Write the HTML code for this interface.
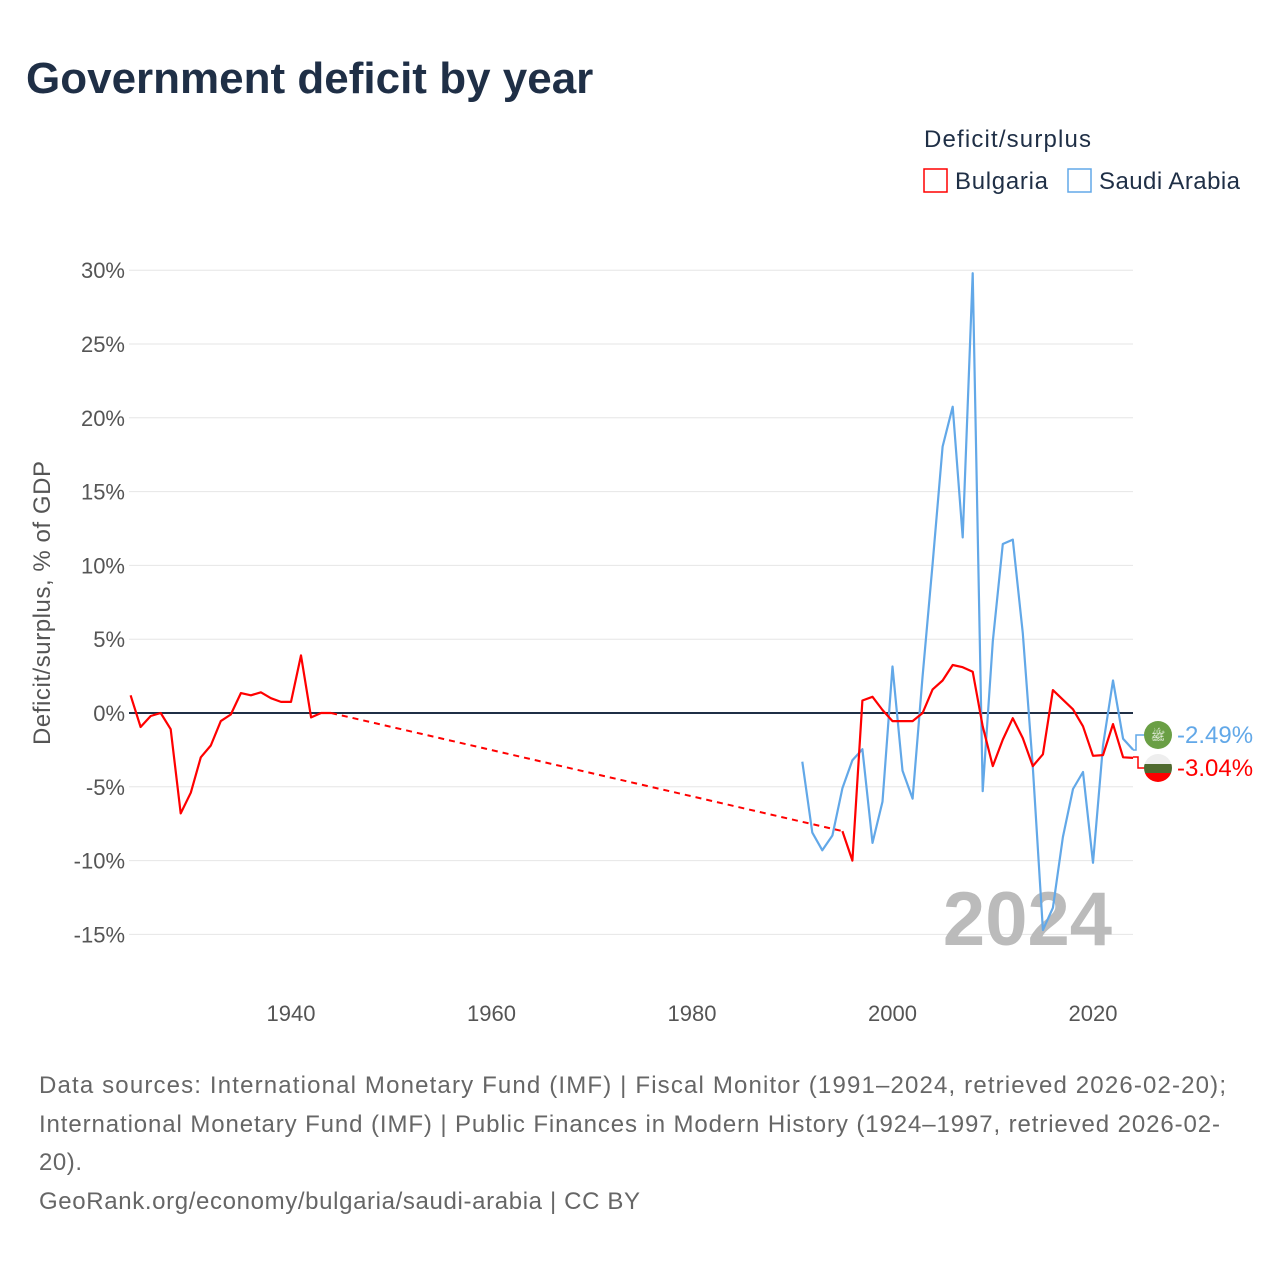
<!DOCTYPE html>
<html><head><meta charset="utf-8"><style>
body{margin:0;background:#fff;font-family:"Liberation Sans",sans-serif;}
svg text{font-family:"Liberation Sans",sans-serif;}
</style></head><body>
<svg width="1280" height="1280" viewBox="0 0 1280 1280">
<text x="26" y="93" font-size="44" font-weight="bold" fill="#1f2f46">Government deficit by year</text>
<g>
<text x="924" y="147" font-size="24" fill="#1f2f46" textLength="167">Deficit/surplus</text>
<g><rect x="924" y="169" width="23" height="23" fill="none" stroke="#ff0000" stroke-width="1.5"/><text x="955" y="189" font-size="24" fill="#1f2f46" textLength="93">Bulgaria</text></g>
<g><rect x="1068" y="169" width="23" height="23" fill="none" stroke="#62a8e8" stroke-width="1.5"/><text x="1099" y="189" font-size="24" fill="#1f2f46" textLength="141">Saudi Arabia</text></g>
</g>
<g id="grid"></g>
<g id="yticks"></g>
<g id="xticks"></g>
<text transform="translate(50,603) rotate(-90)" text-anchor="middle" font-size="24" fill="#555" textLength="284">Deficit/surplus, % of GDP</text>
<text x="1112" y="945" text-anchor="end" font-size="76" font-weight="bold" fill="#bbbbbb">2024</text>
<g id="series"></g>
<g>
<polyline points="1133,750 1136,750 1136,735 1145,735" fill="none" stroke="#62a8e8" stroke-width="1.5"/>
<polyline points="1133,757 1138,757 1138,768 1145,768" fill="none" stroke="#ff0000" stroke-width="1.5"/>
<circle cx="1158" cy="735" r="14" fill="#6a9f45"/>
<text x="1158" y="740" text-anchor="middle" font-size="12" fill="#fff">ﷺ</text>
<clipPath id="bgc"><circle cx="1158" cy="768" r="14"/></clipPath>
<g clip-path="url(#bgc)"><rect x="1144" y="754" width="28" height="10" fill="#eee"/><rect x="1144" y="764" width="28" height="9" fill="#4f6a2f"/><rect x="1144" y="773" width="28" height="10" fill="#ff0000"/></g>
<text x="1177" y="743" font-size="24" fill="#62a8e8">-2.49%</text>
<text x="1177" y="776" font-size="24" fill="#ff0000">-3.04%</text>
</g>
<g font-size="24" fill="#666">
<text x="39" y="1093" textLength="1187">Data sources: International Monetary Fund (IMF) | Fiscal Monitor (1991–2024, retrieved 2026-02-20);</text>
<text x="39" y="1132" textLength="1181">International Monetary Fund (IMF) | Public Finances in Modern History (1924–1997, retrieved 2026-02-</text>
<text x="39" y="1170" textLength="43">20).</text>
<text x="39" y="1209" textLength="601">GeoRank.org/economy/bulgaria/saudi-arabia | CC BY</text>
</g>
</svg>
<script>
const yTicks=[30,25,20,15,10,5,0,-5,-10,-15];
const xTicks=[1940,1960,1980,2000,2020];
const bgYears=[1924,1925,1926,1927,1928,1929,1930,1931,1932,1933,1934,1935,1936,1937,1938,1939,1940,1941,1942,1943,1944,
1995,1996,1997,1998,1999,2000,2001,2002,2003,2004,2005,2006,2007,2008,2009,2010,2011,2012,2013,2014,2015,2016,2017,2018,2019,2020,2021,2022,2023,2024];
const bgValues=[1.2,-0.95,-0.2,0,-1.1,-6.8,-5.4,-3.0,-2.2,-0.55,-0.1,1.35,1.2,1.4,1.0,0.75,0.75,3.9,-0.3,0,0,
-8.0,-10.0,0.85,1.1,0.2,-0.55,-0.55,-0.55,0,1.6,2.2,3.25,3.1,2.8,-0.9,-3.6,-1.8,-0.35,-1.7,-3.6,-2.8,1.55,0.9,0.25,-0.9,-2.9,-2.85,-0.75,-3.0,-3.04];
const saYears=[1991,1992,1993,1994,1995,1996,1997,1998,1999,2000,2001,2002,2003,2004,2005,2006,2007,2008,2009,2010,2011,2012,2013,2014,2015,2016,2017,2018,2019,2020,2021,2022,2023,2024];
const saValues=[-3.3,-8.1,-9.3,-8.3,-5.1,-3.2,-2.45,-8.8,-6.0,3.15,-3.9,-5.8,2.5,10.1,18.05,20.75,11.9,29.8,-5.3,4.85,11.45,11.75,5.4,-3.65,-14.7,-13.2,-8.4,-5.15,-4.0,-10.15,-2.2,2.2,-1.75,-2.49];
const NS='http://www.w3.org/2000/svg';
const X=y=>130.6+(y-1924)*10.025;
const Y=v=>713-v*14.76;
function mk(t,a,p){const e=document.createElementNS(NS,t);for(const k in a)e.setAttribute(k,a[k]);p.appendChild(e);return e;}
const grid=document.getElementById('grid'),yt=document.getElementById('yticks'),xt=document.getElementById('xticks'),ser=document.getElementById('series');
yTicks.forEach(v=>{
 const l=mk('line',{x1:129,x2:1133,y1:Y(v),y2:Y(v),stroke:'#e6e6e6','stroke-width':1},grid);
 
 
 const t=mk('text',{x:125,y:Y(v)+8,'text-anchor':'end','font-size':22,fill:'#555'},yt);
 t.textContent=v+'%';
 
 
});
xTicks.forEach(v=>{
 const t=mk('text',{x:X(v),y:1021,'text-anchor':'middle','font-size':22,fill:'#555'},xt);
 t.textContent=v;
 
 
});
const z=mk('line',{x1:129,x2:1133,y1:Y(0),y2:Y(0),stroke:'#1f2f46','stroke-width':2},grid);


function draw(years,vals,color,name){
 let seg=[];const segs=[];
 for(let i=0;i<years.length;i++){
  if(i>0&&years[i]-years[i-1]>1){segs.push(seg);seg=[];
   const d=mk('line',{x1:X(years[i-1]),y1:Y(vals[i-1]),x2:X(years[i]),y2:Y(vals[i]),stroke:color,'stroke-width':2,'stroke-dasharray':'6,5'},ser);
   
   }
  seg.push(X(years[i]).toFixed(1)+','+Y(vals[i]).toFixed(1));
 }
 segs.push(seg);
 segs.forEach(s=>{const p=mk('polyline',{points:s.join(' '),fill:'none',stroke:color,'stroke-width':2.2,'stroke-linejoin':'round'},ser);
  
  });
}
draw(saYears,saValues,'#62a8e8','saudi-arabia');
draw(bgYears,bgValues,'#ff0000','bulgaria');
</script>
</body></html>
